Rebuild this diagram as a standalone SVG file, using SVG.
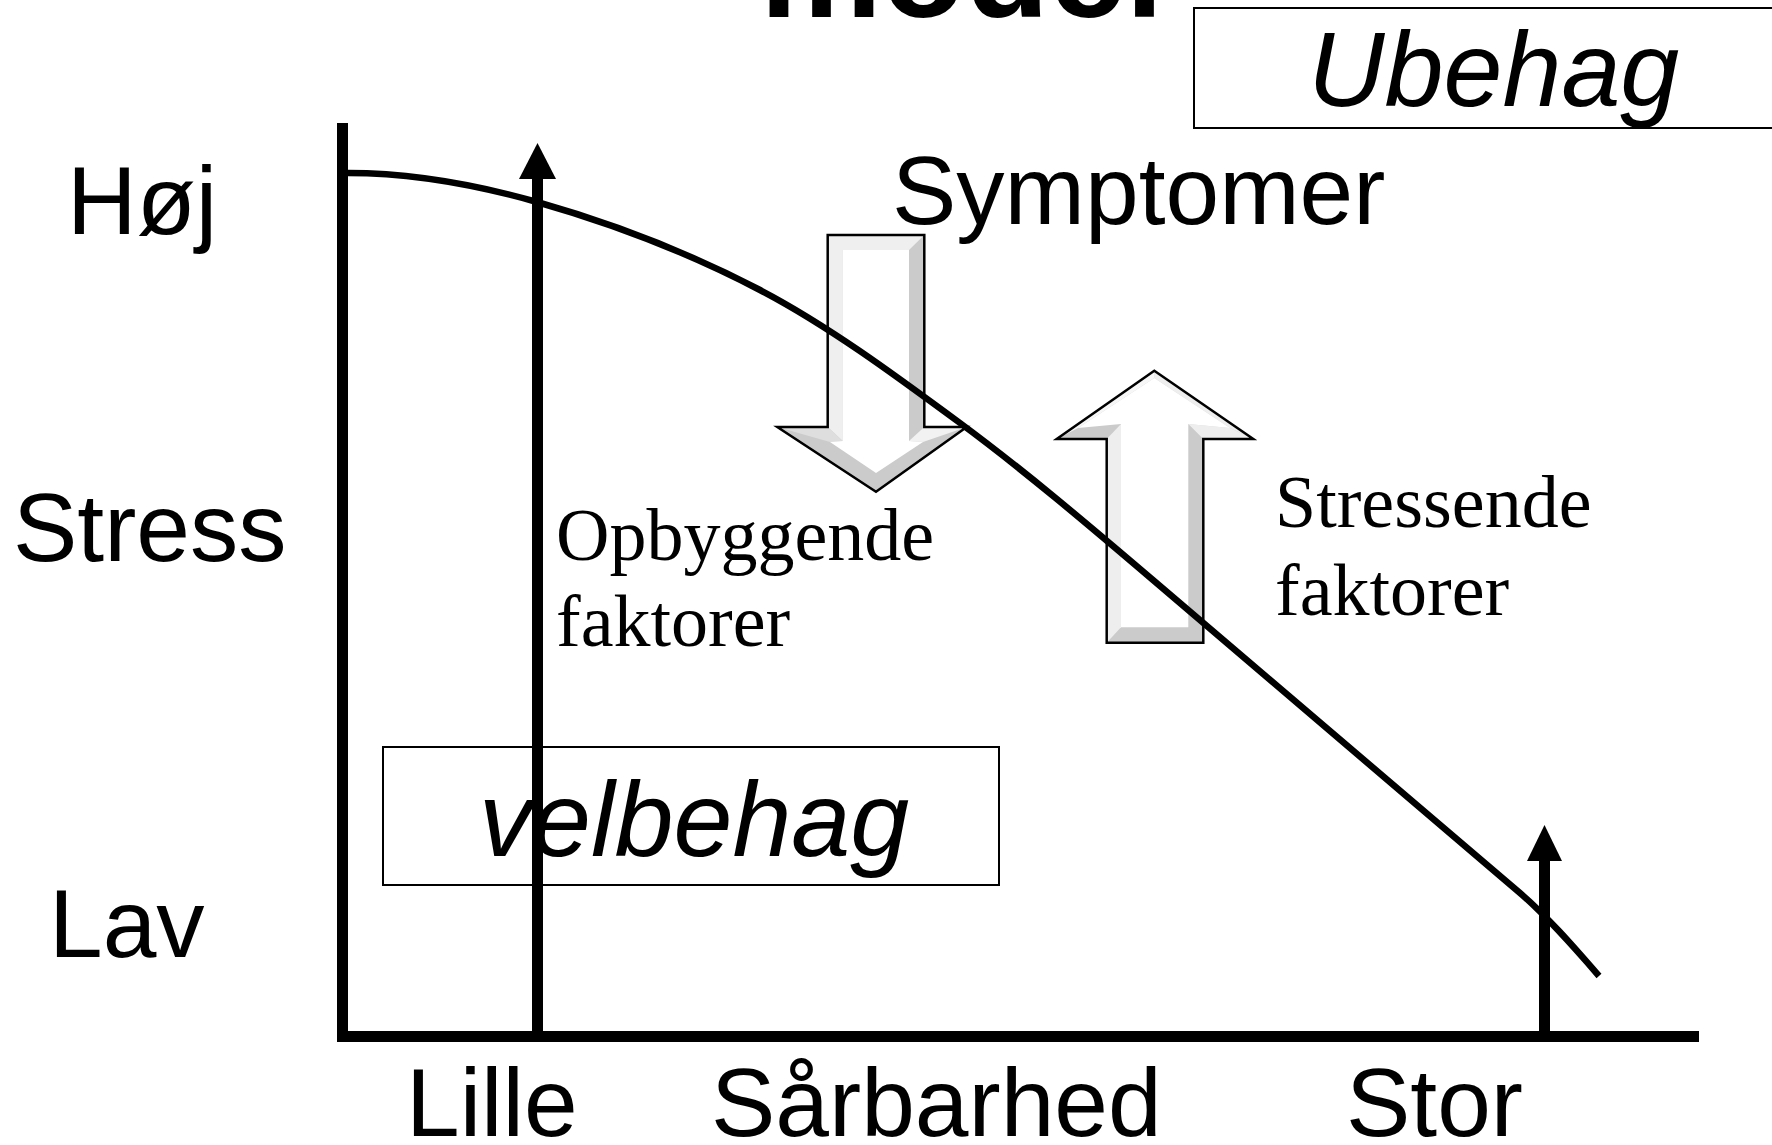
<svg xmlns="http://www.w3.org/2000/svg" width="1772" height="1145" viewBox="0 0 1772 1145">
<style>
.sans{font-family:"Liberation Sans",Arial,sans-serif;fill:#000}
.serif{font-family:"Liberation Serif","Times New Roman",serif;fill:#000}
.lbl{font-size:96.5px}
.it{font-size:106px;font-style:italic}
.tf{font-size:74px}
.ax{stroke:#000;stroke-width:11;fill:none}
.box{fill:none;stroke:#000;stroke-width:2}
.outline{fill:none;stroke:#000;stroke-width:2.5;stroke-linejoin:miter}
</style>
<rect width="1772" height="1145" fill="#fff"/>
<g id="title"><text class="sans" x="760" y="17" font-size="137" font-weight="bold">model</text></g>
<g id="ubehag">
<rect class="box" x="1194" y="8" width="600" height="120"/>
<text class="sans it" x="1308" y="106">Ubehag</text>
</g>
<g id="velbehag">
<rect class="box" x="383" y="747" width="616" height="138"/>
<text class="sans it" x="479" y="856">velbehag</text>
</g>
<g id="down-arrow">
<polygon points="827.7,235 924.3,235 924.3,427 966.7,427 876,491.7 777.3,427 827.7,427" fill="#cbcbcb"/>
<polygon points="827.7,235 924.3,235 909,250 842.7,250 842.7,441 827.7,427" fill="#efefef"/>
<polygon points="924.3,427 966.7,427 923,442 909,441" fill="#f2f2f2"/>
<polygon points="777.3,427 827.7,427 842.7,441 830,442" fill="#dedede"/>
<polygon points="842.7,250 909,250 909,441 923,442 876,473 830,442 842.7,441" fill="#fff"/>
<polygon class="outline" points="827.7,235 924.3,235 924.3,427 966.7,427 876,491.7 777.3,427 827.7,427"/>
</g>
<g id="up-arrow">
<polygon points="1154.3,370.7 1253.3,439 1203.3,439 1203.3,642.7 1106.7,642.7 1106.7,439 1056.7,439" fill="#cbcbcb"/>
<polygon points="1154.3,370.7 1253.3,439 1230,428 1154.3,378" fill="#eeeeee"/>
<polygon points="1203.3,439 1253.3,439 1230,428 1188.3,424" fill="#eeeeee"/>
<polygon points="1154.3,370.7 1154.3,378 1078,428 1056.7,439" fill="#f7f7f7"/>
<polygon points="1106.7,439 1121,424 1121,627.3 1106.7,642.7" fill="#eeeeee"/>
<polygon points="1154.3,378 1230,428 1188.3,424 1188.3,627.3 1121,627.3 1121,424 1078,428" fill="#fff"/>
<polygon class="outline" points="1154.3,370.7 1253.3,439 1203.3,439 1203.3,642.7 1106.7,642.7 1106.7,439 1056.7,439"/>
</g>
<g id="connectors">
<line class="ax" x1="342.5" y1="123" x2="342.5" y2="1042"/>
<line class="ax" x1="337" y1="1036.5" x2="1699" y2="1036.5"/>
<line class="ax" x1="537.5" y1="175" x2="537.5" y2="1036"/>
<polygon points="537.5,143 556,179 519,179" fill="#000"/>
<line class="ax" x1="1544.5" y1="857" x2="1544.5" y2="1036"/>
<polygon points="1544.5,825 1562,861 1527,861" fill="#000"/>
<path d="M348,173 C411,173 474,184.1 537,202 C611.3,223.1 685.7,251.2 760,290 C826.7,324.8 893.3,373.8 960,423 C1024.3,470.5 1088.7,525.2 1153,580 L1520,893 C1546,915.2 1573,946 1599,976" fill="none" stroke="#000" stroke-width="6.5"/>
</g>
<g id="labels">
<text class="sans lbl" x="67" y="234">Høj</text>
<text class="sans lbl" x="13" y="561">Stress</text>
<text class="sans lbl" x="49" y="957">Lav</text>
<text class="sans lbl" x="406" y="1136">Lille</text>
<text class="sans lbl" x="711" y="1136">Sårbarhed</text>
<text class="sans lbl" x="1346" y="1136">Stor</text>
<text class="sans lbl" x="892" y="224">Symptomer</text>
<text class="serif tf" x="556" y="560">Opbyggende</text>
<text class="serif tf" x="556" y="646">faktorer</text>
<text class="serif tf" x="1275" y="527">Stressende</text>
<text class="serif tf" x="1275" y="615">faktorer</text>
</g>
</svg>
